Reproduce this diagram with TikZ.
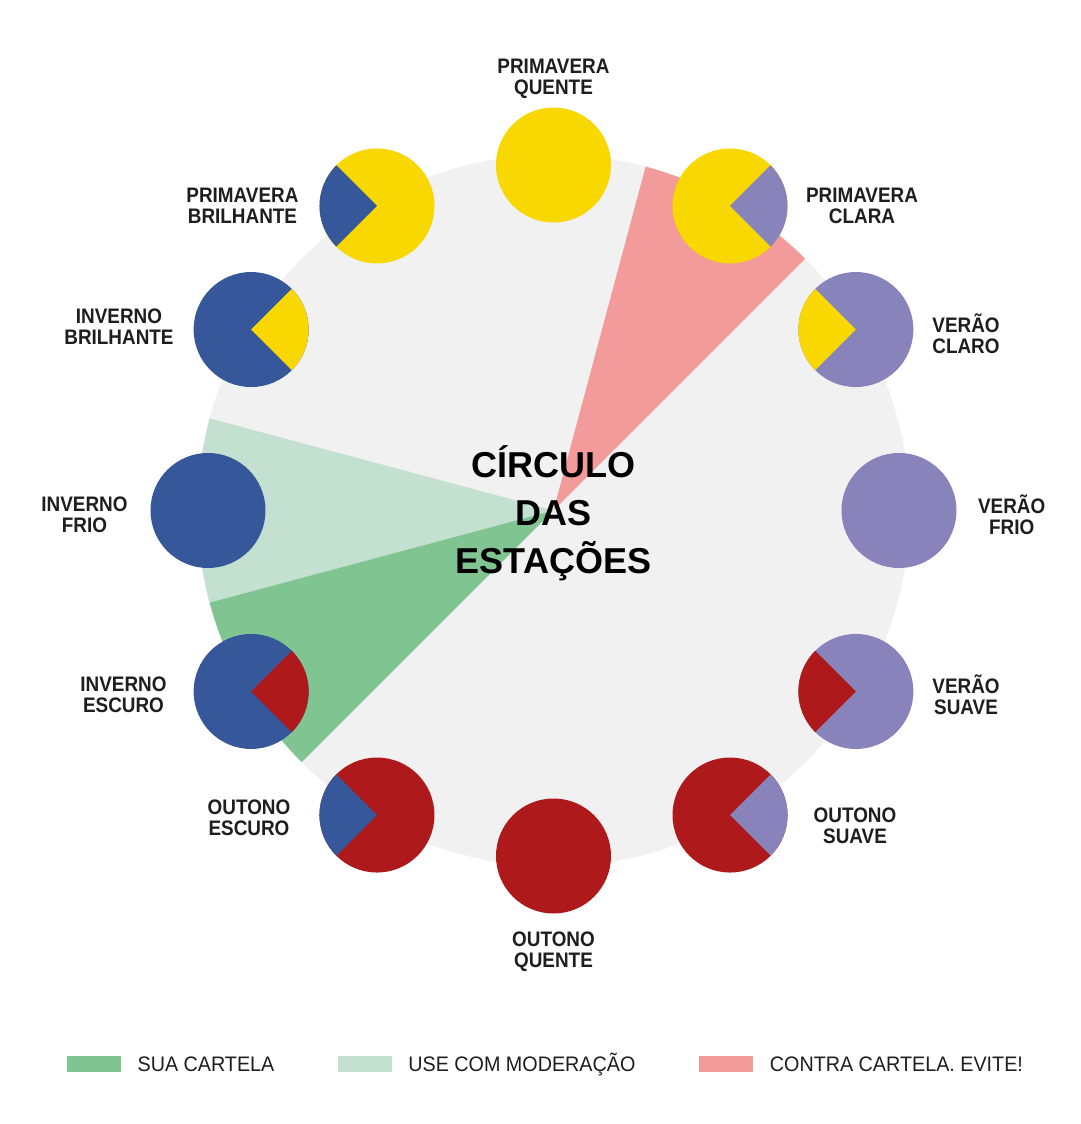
\documentclass[tikz,border=0pt]{standalone}
\usepackage{fontspec}
\setmainfont{Liberation Sans}
\newfontfamily\lblfont[FakeStretch=0.9]{Liberation Sans}
\newfontfamily\keyfont[FakeStretch=0.94]{Liberation Sans}
\usepackage{tikz}
\usetikzlibrary{positioning}
\definecolor{ringgray}{HTML}{F1F1F1}
\definecolor{sunyellow}{HTML}{F9D700}
\definecolor{winterblue}{HTML}{36579A}
\definecolor{summerlilac}{HTML}{8883BB}
\definecolor{autumnred}{HTML}{AE1A1C}
\definecolor{avoidpink}{HTML}{F29B9A}
\definecolor{paletteg}{HTML}{80C492}
\definecolor{modg}{HTML}{C3E0D1}
\definecolor{inkdark}{HTML}{1E1E1E}

\begin{document}
\begin{tikzpicture}[
    dot/.style={circle, minimum size=115pt, inner sep=0pt, outer sep=0pt},
    lbl/.style={align=center, inner sep=0pt, text=inkdark, font=\lblfont\bfseries\fontsize{21}{21}\selectfont},
    key/.style={rectangle, minimum width=54pt, minimum height=16.5pt, inner sep=0pt},
    keytext/.style={inner sep=0pt, text height=15pt, text depth=0pt, text=inkdark, font=\keyfont\fontsize{21}{21}\selectfont}
]
\fill[white] (-553.5pt,-613.5pt) rectangle (526.5pt,510.5pt);
\useasboundingbox (-553.5pt,-613.5pt) rectangle (526.5pt,510.5pt);

\coordinate (c) at (0,0);
\fill[ringgray] (c) circle[radius=356pt];
\fill[avoidpink] (c) -- (45:356pt) arc[start angle=45, end angle=75, radius=356pt] -- cycle;
\fill[modg] (c) -- (165:356pt) arc[start angle=165, end angle=195, radius=356pt] -- cycle;
\fill[paletteg] (c) -- (195:356pt) arc[start angle=195, end angle=225, radius=356pt] -- cycle;

\node[dot, fill=sunyellow] (primq) at (90:345.5pt) {};
\node[dot, fill=sunyellow] (primc) at (59.9:352pt) {};
\node[dot, fill=summerlilac] (verc) at (30.9:352.4pt) {};
\node[dot, fill=summerlilac] (verf) at (0:345.5pt) {};
\node[dot, fill=summerlilac] (vers) at (-30.9:352.4pt) {};
\node[dot, fill=autumnred] (outs) at (-59.9:352pt) {};
\node[dot, fill=autumnred] (outq) at (-90:345.5pt) {};
\node[dot, fill=autumnred] (oute) at (-120.1:352pt) {};
\node[dot, fill=winterblue] (inve) at (-149.1:352.4pt) {};
\node[dot, fill=winterblue] (invf) at (180:345.5pt) {};
\node[dot, fill=winterblue] (invb) at (149.1:352.4pt) {};
\node[dot, fill=sunyellow] (primb) at (120.1:352pt) {};

\fill[summerlilac] (primc.center) -- (primc.45) arc[start angle=45, end angle=-45, radius=57.5pt] -- cycle;
\fill[sunyellow] (verc.center) -- (verc.135) arc[start angle=135, end angle=225, radius=57.5pt] -- cycle;
\fill[autumnred] (vers.center) -- (vers.135) arc[start angle=135, end angle=225, radius=57.5pt] -- cycle;
\fill[summerlilac] (outs.center) -- (outs.45) arc[start angle=45, end angle=-45, radius=57.5pt] -- cycle;
\fill[winterblue] (oute.center) -- (oute.135) arc[start angle=135, end angle=225, radius=57.5pt] -- cycle;
\fill[autumnred] (inve.center) -- (inve.45) arc[start angle=45, end angle=-45, radius=57.5pt] -- cycle;
\fill[sunyellow] (invb.center) -- (invb.45) arc[start angle=45, end angle=-45, radius=57.5pt] -- cycle;
\fill[winterblue] (primb.center) -- (primb.135) arc[start angle=135, end angle=225, radius=57.5pt] -- cycle;

\node[lbl] (primqlbl) at (0pt,431.5pt) {PRIMAVERA\\QUENTE};
\node[lbl] (primclbl) at (308.5pt,304.7pt) {PRIMAVERA\\CLARA};
\node[lbl] (verclbl) at (412.5pt,176.5pt) {VERÃO\\CLARO};
\node[lbl] (verflbl) at (458.2pt,-4pt) {VERÃO\\FRIO};
\node[lbl] (verslbl) at (412.5pt,-184.5pt) {VERÃO\\SUAVE};
\node[lbl] (outslbl) at (301.5pt,-315pt) {OUTONO\\SUAVE};
\node[lbl] (outqlbl) at (0pt,-441.5pt) {OUTONO\\QUENTE};
\node[lbl] (outelbl) at (-304.5pt,-307.5pt) {OUTONO\\ESCURO};
\node[lbl] (invelbl) at (-430pt,-184.5pt) {INVERNO\\ESCURO};
\node[lbl] (invflbl) at (-469pt,-4.1pt) {INVERNO\\FRIO};
\node[lbl] (invblbl) at (-434.5pt,184.1pt) {INVERNO\\BRILHANTE};
\node[lbl] (primblbl) at (-311pt,304.8pt) {PRIMAVERA\\BRILHANTE};

\node[align=center, inner sep=0pt, font=\bfseries\fontsize{36}{48}\selectfont] (title) at (0pt,-2.5pt) {CÍRCULO\\DAS\\ESTAÇÕES};

\node[key, fill=paletteg] (sua) at (-459.8pt,-553.7pt) {};
\node[keytext, right=16.5pt of sua] (suatext) {SUA CARTELA};
\node[key, fill=modg] (moder) at (-188.5pt,-553.7pt) {};
\node[keytext, right=16pt of moder] (modertext) {USE COM MODERAÇÃO};
\node[key, fill=avoidpink] (contra) at (172.5pt,-553.7pt) {};
\node[keytext, right=16.5pt of contra] (contratext) {CONTRA CARTELA. EVITE!};

\end{tikzpicture}
\end{document}
